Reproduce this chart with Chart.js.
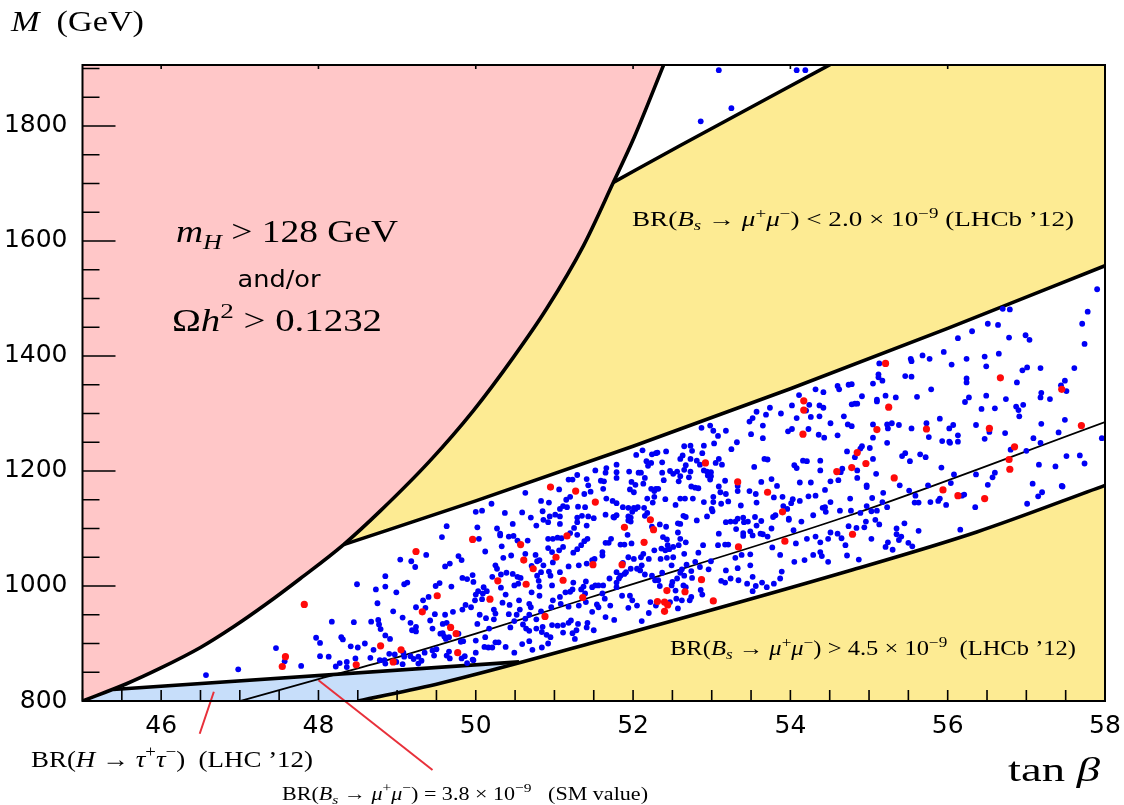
<!DOCTYPE html>
<html>
<head>
<meta charset="utf-8">
<script src="https://cdn.jsdelivr.net/npm/chart.js@4.4.1/dist/chart.umd.min.js"></script>
<style>
  html, body { margin: 0; padding: 0; background: #fff; }
  canvas { display: block; }
</style>
</head>
<body>
<canvas id="chart" width="1124" height="805" style="width:1124px;height:805px"></canvas>
<script>
// boundaries of the excluded regions, [tan beta, M]
const pinkEdge = [[45.0,800],[45.56,830],[45.99,857],[46.5,893],[46.92,929],[47.34,969],[47.77,1013],[48.32,1072],[48.79,1131],[49.42,1218],[49.97,1305],[50.48,1398],[50.90,1482],[51.37,1592],[51.75,1702],[52.01,1779],[52.40,1910]];
const upperBsEdge = [[48.32,1072],[50.0,1148],[52.0,1243],[54.0,1343],[56.0,1448],[58.0,1557]];
const upperBsTop = [[51.75,1702],[52.6,1766],[54.55,1910]];
const lowerBsEdge = [[48.5,800],[49.55,831],[51.45,900],[54.76,1027],[56.37,1094],[58.0,1175]];
const tauEdge = [[45.39,820],[50.55,868]];
const smLine = [[47.0,800],[48.0,838],[49.0,876],[50.0,917],[51.45,980],[54.76,1123],[58.0,1285]];
const pointerTau = [[46.67,816],[46.49,743]];
const pointerSM = [[48.0,836],[49.45,680]];

// scan points
const bluePoints = [
[51.29,1193],[51.23,1185],[51.18,1185],[51.41,1186],[51.06,1168],[50.83,1148],[50.93,1145],[50.63,1162],[51.43,1175],[51.38,1160],[51.20,1155],[51.15,1150],[51.11,1139],[51.07,1134],[51.16,1137],[51.30,1138],[51.39,1137],
[50.20,1143],[50.00,1129],[50.08,1131],[50.37,1127],[50.59,1128],[50.70,1119],[50.85,1130],[50.86,1115],[50.94,1121],[51.01,1124],[51.07,1121],[51.29,1119],[51.35,1122],[51.29,1111],[51.43,1121],[51.41,1105],[51.25,1101],[51.07,1108],[51.20,1092],[50.92,1111],[50.77,1105],[50.47,1108],[50.27,1100],[50.31,1091],[49.63,1104],[50.02,1102],[49.57,1085],[50.04,1082],
[50.48,1087],[50.42,1086],[50.31,1088],[50.66,1079],[50.53,1079],[50.33,1069],[50.92,1082],[50.98,1082],[51.04,1084],[51.09,1083],[51.29,1089],[51.42,1082],[51.38,1078],[51.11,1068],[51.34,1071],[51.29,1064],[50.92,1066],[50.76,1054],[50.97,1059],[51.06,1062],[51.24,1058],[50.45,1053],[50.35,1049],[49.37,1054],[49.04,1046],[49.18,1043],[49.78,1052],[49.82,1045],[50.12,1060],
[49.67,1039],[49.61,1034],[49.23,1033],[50.25,1036],[50.27,1030],[50.63,1056],[50.81,1045],[50.78,1043],[50.71,1035],[50.86,1036],[50.98,1041],[51.18,1034],[51.31,1036],[51.41,1039],[50.83,1024],[50.93,1025],[50.95,1018],[51.07,1024],[49.96,1019],[49.89,1012],[49.83,1014],[50.57,1014],[50.53,1016],[50.78,1018],[50.47,1021],[50.39,1023],[50.32,1020],[50.21,1016],
[48.85,1017],[48.49,1003],[48.73,994],[48.85,999],[49.09,1003],[49.13,1006],[49.49,1000],[49.54,1005],[49.69,999],[49.97,1007],[50.10,998],[50.03,991],[50.14,991],[50.00,985],[50.09,987],[49.99,975],[50.08,977],[50.38,985],[50.32,997],[50.49,1001],[50.54,1004],[50.80,1009],[50.81,999],[50.71,989],[50.97,1001],[51.24,1006],[51.40,1008],[51.37,999],[51.34,994],[51.23,994],[51.14,989],[51.07,981],[51.20,990],[50.98,975],[50.81,983],
[48.75,970],[48.99,989],[49.40,981],[49.33,975],[49.24,963],[49.36,962],[49.48,951],[48.95,956],[49.07,945],[49.42,940],[49.61,950],[49.71,955],[49.87,967],[49.83,959],[49.94,963],[50.05,950],[50.13,944],[50.23,959],[50.25,952],[50.34,971],[50.43,967],[50.55,975],[50.56,959],[50.68,969],[50.70,963],[50.83,956],[50.96,963],[51.08,969],[51.18,964],[51.31,966],[51.40,972],[51.39,987],[50.68,950],[50.52,950],[50.63,943],[50.42,951],[50.49,939],[50.23,942],
[48.17,938],[48.45,937],[48.67,938],[48.76,941],[48.77,933],[48.79,925],[48.85,914],[48.91,908],[49.17,936],[49.19,923],[49.24,929],[49.24,921],[49.45,926],[49.58,934],[49.63,936],[49.55,917],[49.58,918],[49.62,908],[49.60,912],[49.66,911],[49.78,917],[49.81,903],[49.84,904],[50.00,905],[50.12,911],[50.02,934],[50.17,926],[50.44,928],[50.60,933],[50.64,926],[50.68,922],[50.77,926],[50.77,942],[50.85,929],[50.97,932],[50.90,915],[50.84,920],[50.95,911],[51.04,931],[51.11,932],[51.18,936],[51.21,940],[51.30,934],[51.42,936],[51.41,928],[51.28,923],[51.23,918],[51.26,908],[51.11,919],
[48.29,911],[48.31,907],[48.41,895],[48.50,893],[48.59,900],[48.70,889],[48.90,882],[48.97,881],[49.08,884],[49.09,877],[49.17,878],[49.21,873],[49.27,877],[49.31,870],[49.27,865],[49.35,884],[49.45,888],[49.50,890],[49.66,886],[49.82,874],[49.86,878],[49.96,872],[50.00,884],[50.11,894],[50.16,893],[50.21,893],[50.25,902],[50.29,902],[50.38,894],[50.49,884],[50.59,899],[50.68,904],[50.72,889],[50.84,893],[50.92,900],[48.22,860],[48.27,866],[48.36,868],[48.36,859],[48.47,874],[48.66,875],[48.78,871],[48.84,871],[48.85,865],[48.99,868],[49.07,864],[49.47,879],[49.63,879],[49.67,874],[49.89,866],[49.97,871],
[47.97,910],[48.02,901],[47.46,892],[47.57,869],[46.98,855],[46.57,845],[47.78,861],[48.02,878],[48.13,877],
[53.09,1897],[54.08,1897],[54.19,1897],[53.25,1831],[52.86,1808],
[54.60,1348],[54.74,1350],[54.62,1342],[54.42,1337],[54.32,1342],[54.11,1332],[54.02,1314],[54.08,1292],[54.24,1315],[54.20,1305],[54.37,1314],[54.42,1310],[54.26,1294],[54.37,1295],[54.51,1283],[54.68,1295],[54.73,1281],[54.60,1262],[54.43,1258],[54.36,1263],[54.23,1273],[54.02,1273],[53.97,1269],[53.88,1300],[53.74,1310],[53.69,1298],[53.57,1303],[53.52,1292],[53.48,1286],[53.65,1279],[53.65,1257],[53.50,1264],[53.32,1250],[53.25,1238],[53.08,1261],[53.03,1248],[53.02,1270],[52.98,1279],[52.87,1275],[53.18,1270],[53.09,1221],[53.13,1211],[53.05,1214],[52.90,1244],[52.88,1231],[52.73,1244],[52.65,1243],[52.60,1221],[52.42,1234],[52.31,1232],[52.24,1229],[52.12,1236],[52.04,1228],[52.29,1231],[52.37,1215],[52.17,1217],[52.23,1214],[52.19,1209],[52.75,1235],[52.63,1227],[52.73,1221],[52.67,1210],[52.81,1218],[52.85,1211],[52.90,1201],[52.94,1199],[52.99,1191],[52.95,1192],
[51.52,1201],[51.66,1205],[51.65,1197],[51.79,1211],[51.79,1198],[51.79,1188],[51.95,1199],[52.07,1197],[52.10,1197],[51.98,1181],[51.96,1168],[52.01,1163],[52.03,1176],[52.13,1178],[52.15,1188],[52.23,1169],[52.29,1169],[52.32,1169],[52.27,1165],[52.37,1197],[52.47,1200],[52.39,1184],[52.51,1195],[52.56,1199],[52.58,1182],[52.60,1191],[52.65,1202],[52.71,1189],[52.73,1199],[52.79,1171],[52.83,1170],[52.74,1173],[52.98,1185],[52.99,1198],[53.09,1173],[53.17,1183],[53.18,1160],[53.33,1165],[53.33,1174],[53.48,1165],[53.54,1207],[53.67,1221],[53.71,1220],[53.76,1186],[53.63,1181],[53.79,1154],[53.83,1174],[53.90,1155],[53.56,1160],[53.57,1145],[53.37,1140],[53.21,1147],[53.02,1155],[53.02,1146],[53.00,1134],[53.11,1163],[53.12,1143],[52.90,1146],[52.76,1152],[52.66,1152],[52.60,1152],[52.54,1141],[52.41,1151],[52.27,1155],[52.25,1145],[52.18,1152],[52.14,1136],[52.15,1122],[52.06,1137],[52.01,1136],[51.99,1129],[51.94,1136],[51.94,1121],[51.87,1137],[51.79,1123],[51.76,1119],[51.74,1148],[51.79,1144],[51.66,1152],[51.62,1169],[51.46,1164],[51.63,1182],[51.59,1183],
[54.05,1210],[54.08,1205],[54.16,1218],[54.21,1217],[54.38,1218],[54.38,1201],[54.51,1182],[54.61,1184],[54.64,1198],[54.66,1204],[54.72,1234],[54.26,1180],[54.12,1180],[54.23,1156],[54.32,1157],[54.44,1167],[54.51,1146],[54.41,1136],[54.44,1137],[54.12,1148],[54.03,1151],[54.01,1144],[53.98,1115],[53.98,1117],[53.96,1134],[53.91,1139],[53.81,1123],[53.78,1120],[53.76,1100],[54.04,1097],[54.14,1112],[54.29,1123],[54.45,1129],[54.63,1131],[54.74,1104],
[51.50,1118],[51.65,1124],[51.75,1120],[51.94,1114],[51.97,1119],[51.97,1112],[52.03,1134],[52.18,1127],[52.24,1103],[52.34,1107],[52.42,1103],[52.38,1085],[52.43,1081],[52.44,1071],[52.36,1065],[52.46,1064],[52.51,1068],[52.58,1071],[52.60,1082],[52.67,1076],[52.57,1093],[52.60,1108],[52.57,1109],[52.64,1122],[52.67,1120],[52.81,1114],[52.94,1121],[53.01,1130],[53.18,1111],[53.24,1112],[53.30,1112],[53.33,1117],[53.40,1119],[53.41,1111],[53.46,1112],[53.55,1120],[53.63,1113],[53.49,1095],[53.31,1099],[53.40,1092],[53.40,1087],[53.57,1105],[53.52,1088],[53.62,1091],[53.65,1090],[53.71,1086],[53.09,1091],[53.08,1071],[53.17,1072],[53.21,1072],[52.89,1071],[52.83,1058],[52.65,1056],[52.51,1050],[52.43,1049],[52.35,1047],[52.49,1036],[52.41,1062],[52.27,1062],[52.20,1047],[52.10,1050],[52.13,1056],[52.01,1047],[51.94,1050],[51.87,1040],[51.89,1072],[51.93,1089],[51.98,1074],[51.84,1072],[51.72,1082],[51.65,1075],[51.69,1075],[51.61,1059],[51.61,1053],[51.51,1047],[51.48,1045],
[54.07,1074],[54.21,1082],[54.32,1086],[54.38,1076],[54.48,1082],[54.51,1093],[54.60,1091],[54.65,1083],[54.72,1053],[54.70,1071],[54.38,1059],[54.40,1052],[54.48,1042],[54.29,1054],[54.18,1045],[54.05,1042],[53.87,1054],[53.77,1067],[53.49,1055],[53.38,1054],[53.30,1049],[53.33,1031],[53.49,1036],[53.18,1027],[53.12,1009],[53.17,1006],[53.24,1013],[53.34,1010],[53.45,1004],[53.52,1016],[53.56,1000],[53.64,1006],[53.70,998],[53.52,991],[53.89,1025],[53.87,1013],[53.79,1004],
[52.99,1043],[52.96,1029],[52.85,1033],[52.79,1042],[52.74,1026],[52.68,1037],[52.62,1029],[52.60,1023],[52.65,1018],[52.75,1014],[52.64,1001],[52.67,998],[52.56,1013],[52.50,1007],[52.49,1001],[52.54,992],[52.55,978],[52.62,975],[52.72,975],[52.86,993],[52.88,985],[52.37,1023],[52.32,1010],[52.34,1000],[52.28,1010],[52.24,1018],[52.15,1020],[52.09,1027],[52.11,1036],[52.05,1030],[51.97,1030],[51.91,1024],[51.89,1021],[51.84,1018],[51.82,1013],[51.79,1024],[51.79,1006],[51.70,1013],[51.62,1001],[51.56,1001],[51.52,1001],[51.48,998],[51.79,998],[51.61,987],[51.64,978],[51.71,966],[51.56,963],[51.65,946],[51.76,941],[51.50,923],[51.48,955],[51.54,968],[51.94,962],[52.05,966],[52.11,939],[52.20,953],[52.22,972],[52.29,966],[52.47,972],[52.57,961],[52.74,981],[51.86,983],[51.96,983],[51.99,975],
[57.90,1516],[57.78,1477],[57.71,1456],[57.74,1421],[56.79,1481],[56.70,1482],[56.51,1456],[56.64,1454],[56.31,1443],[56.13,1431],[56.78,1432],[56.99,1436],[57.04,1428],[56.65,1404],[56.47,1399],[56.24,1395],[55.95,1407],[55.68,1401],[55.53,1395],[55.54,1391],[55.77,1395],[56.05,1385],[56.49,1382],[56.95,1375],[57.01,1380],[57.18,1379],[57.61,1379],[57.49,1357],[57.44,1349],[57.51,1339],[57.19,1336],[57.18,1328],[57.30,1325],[56.88,1354],[56.24,1361],[56.24,1354],[55.46,1365],[55.54,1364],[55.13,1387],[55.12,1368],[55.12,1363],[55.17,1357],[55.05,1352],[54.78,1351],[55.79,1342],[55.61,1329],[55.21,1331],[55.34,1328],[55.10,1324],[55.10,1321],[54.91,1330],[54.78,1316],[54.85,1317],[54.82,1317],
[56.27,1328],[56.22,1320],[56.49,1331],[56.74,1325],[56.43,1308],[56.60,1309],[56.87,1312],[56.96,1315],[56.90,1306],[56.91,1295],[55.90,1291],[55.73,1283],[56.07,1280],[56.02,1274],[55.54,1274],[55.38,1280],[55.23,1281],[55.24,1274],[55.29,1283],[55.05,1281],[54.78,1278],[55.23,1249],[55.05,1258],[54.91,1243],[54.89,1239],[55.01,1240],[54.82,1224],[55.05,1221],[54.85,1201],[54.85,1188],[55.09,1195],[55.42,1226],[55.46,1231],[55.52,1217],[55.65,1229],[55.72,1224],[55.76,1259],[55.93,1252],[56.02,1251],[56.03,1249],[56.13,1262],[56.13,1251],[56.36,1280],[56.53,1268],[56.47,1256],[56.73,1266],[57.09,1257],[57.19,1282],[57.49,1289],[57.41,1267],[57.18,1249],[57.00,1235],[56.80,1237],[57.16,1211],[57.37,1208],[57.51,1226],[57.68,1227],[57.74,1213],[57.96,1257],
[55.92,1206],[56.08,1194],[56.04,1179],[56.36,1194],[56.60,1197],[56.57,1189],[56.51,1176],[55.75,1175],[55.39,1175],[55.51,1166],[55.59,1157],[55.58,1145],[55.63,1145],[55.78,1146],[55.88,1148],[55.90,1152],[55.98,1141],[56.18,1157],[56.21,1159],[56.35,1137],[57.08,1178],[57.20,1163],[57.15,1156],[57.01,1143],[57.45,1174],[57.46,1173],[55.18,1162],[55.04,1153],[55.23,1137],[55.17,1146],[55.10,1131],[55.03,1130],[54.97,1139],[54.89,1127],[54.77,1131],[54.97,1175],[54.97,1172],[54.76,1152],[54.96,1112],[55.08,1115],[55.13,1107],[54.84,1101],[54.94,1102],[55.03,1082],[55.35,1100],[55.45,1109],[55.35,1090],[55.38,1080],[55.41,1086],[55.24,1076],[55.21,1068],[55.30,1063],[55.50,1075],[55.55,1069],[55.63,1096],[56.16,1098],[54.87,1046]
];

const redPoints = [
[50.95,1172],[51.27,1165],[49.96,1081],[50.57,1072],[49.24,1060],[51.16,1087],[51.02,1050],[50.61,1045],[50.73,1030],[51.11,1010],[50.28,1009],[50.64,1003],[49.51,983],[50.18,977],[51.36,980],[49.32,955],[50.88,947],[49.68,928],[49.75,917],[48.79,896],[49.05,889],[49.77,884],[48.95,868],[48.48,863],
[47.82,968],[47.58,877],[47.54,860],
[54.17,1322],[54.17,1306],[54.16,1264],[52.92,1214],[53.33,1181],[53.71,1163],[54.59,1199],[51.52,1146],[52.22,1115],[51.89,1102],[52.26,1098],[52.14,1076],[53.90,1129],[53.93,1078],[53.34,1068],[51.49,1037],[51.86,1037],[52.87,1011],[52.43,992],[52.66,990],[53.02,974],[52.31,973],[52.40,972],[52.44,967],[52.40,956],
[55.21,1387],[56.67,1362],[57.45,1342],[55.25,1311],[55.10,1272],[55.73,1273],[56.53,1274],[57.70,1279],[54.85,1232],[54.96,1213],[54.78,1206],[55.32,1188],[56.85,1242],[56.78,1220],[56.79,1203],[55.94,1167],[56.13,1157],[56.47,1152],[54.79,1090]
];

const xTicks = { min: 45, max: 58, step: 0.5 };
const yTicks = { min: 800, max: 1906, step: 50 };

const PINK = '#ffc7c8';
const YELLOW = '#fdeb93';
const LIGHTBLUE = '#c7defa';

const xy = pts => pts.map(([x, y]) => ({ x, y }));

// tau region: closed under the lower yellow band, which is painted over it
const tauShape = [[45.0, 800], tauEdge[0], tauEdge[1], [51.0, 868], [51.0, 800]];

function area(pts, color, fill, order, straight) {
  return { data: xy(pts), showLine: true, fill: fill, backgroundColor: color,
    borderColor: 'rgba(0,0,0,0)', borderWidth: 1, pointRadius: 0, tension: 0,
    cubicInterpolationMode: straight ? 'default' : 'monotone', order: order };
}
function edge(pts, width, color, clip) {
  const d = { data: xy(pts), showLine: true, fill: false, borderColor: color || '#000',
    borderWidth: width, pointRadius: 0, cubicInterpolationMode: 'monotone', order: 5 };
  if (clip === false) d.clip = false;
  return d;
}

function richText(ctx, runs, x, y, size, width, align) {
  const serif = '"Liberation Serif", "DejaVu Serif", serif';
  const parts = runs.map(([s, k]) => {
    const small = k === 'sub' || k === 'isub' || k === 'sup';
    const fs = small ? size * 0.7 : size;
    let font;
    if (k === 'sans') font = fs + 'px "DejaVu Sans", sans-serif';
    else font = ((k === 'i' || k === 'isub') ? 'italic ' : '') + fs + 'px ' + serif;
    ctx.font = font;
    const dy = k === 'sup' ? -size * 0.42 : (small ? size * 0.22 : 0);
    return { s, font, dy, w: ctx.measureText(s).width };
  });
  const total = parts.reduce((a, p) => a + p.w, 0);
  const sx = width ? width / total : 1;
  const x0 = align === 'center' ? x - total * sx / 2 : x;
  ctx.save();
  ctx.translate(x0, y);
  ctx.scale(sx, 1);
  ctx.textBaseline = 'alphabetic';
  ctx.textAlign = 'left';
  ctx.fillStyle = '#000';
  let cx = 0;
  parts.forEach(p => { ctx.font = p.font; ctx.fillText(p.s, cx, p.dy); cx += p.w; });
  ctx.restore();
}

const frameAndText = {
  id: 'frameAndText',
  afterDraw(chart) {
    const { ctx, chartArea: a, scales: { x, y } } = chart;
    ctx.save();
    ctx.strokeStyle = '#000';
    ctx.lineWidth = 1.6;
    ctx.beginPath();
    x.ticks.forEach(t => {
      const px = x.getPixelForValue(t.value);
      ctx.moveTo(px, a.bottom); ctx.lineTo(px, a.bottom - 11);
      if (t.value % 2 === 0) { ctx.moveTo(px, a.top); ctx.lineTo(px, a.top + 4); }
    });
    y.ticks.forEach(t => {
      const py = y.getPixelForValue(t.value);
      const len = t.value % 200 === 0 ? 33 : 17;
      ctx.moveTo(a.left, py); ctx.lineTo(a.left + len, py);
    });
    ctx.stroke();
    ctx.lineWidth = 2;
    ctx.strokeRect(a.left, a.top, a.right - a.left, a.bottom - a.top);
    ctx.restore();

    // axis titles
    richText(ctx, [['M', 'i'], ['  (GeV)', 'r']], 11, 31, 30, 133);
    richText(ctx, [['tan ', 'r'], ['β', 'i']], 1008, 781, 34, 92);

    // region labels
    richText(ctx, [['m', 'i'], ['H', 'isub'], [' > 128 GeV', 'r']], 176, 242, 31, 222);
    richText(ctx, [['and/or', 'sans']], 279, 287, 23, 83, 'center');
    richText(ctx, [['Ω', 'r'], ['h', 'i'], ['2', 'sup'], [' > 0.1232', 'r']], 172, 331, 31, 210);
    richText(ctx, [['BR(', 'r'], ['B', 'i'], ['s', 'isub'], [' → ', 'r'], ['μ', 'i'], ['+', 'sup'], ['μ', 'i'], ['−', 'sup'],
      [') < 2.0 × 10', 'r'], ['−9', 'sup'], [' (LHCb ’12)', 'r']], 632, 226, 20, 442);
    richText(ctx, [['BR(', 'r'], ['B', 'i'], ['s', 'isub'], [' → ', 'r'], ['μ', 'i'], ['+', 'sup'], ['μ', 'i'], ['−', 'sup'],
      [') > 4.5 × 10', 'r'], ['−9', 'sup'], ['  (LHCb ’12)', 'r']], 670, 655, 20, 406);
    richText(ctx, [['BR(', 'r'], ['H', 'i'], [' → ', 'r'], ['τ', 'i'], ['+', 'sup'], ['τ', 'i'], ['−', 'sup'],
      [')  (LHC ’12)', 'r']], 31, 767, 23.5, 282);
    richText(ctx, [['BR(', 'r'], ['B', 'i'], ['s', 'isub'], [' → ', 'r'], ['μ', 'i'], ['+', 'sup'], ['μ', 'i'], ['−', 'sup'],
      [') = 3.8 × 10', 'r'], ['−9', 'sup'], ['   (SM value)', 'r']], 282, 800, 19, 366);
  }
};

new Chart(document.getElementById('chart'), {
  type: 'scatter',
  data: {
    datasets: [
      area(tauShape, LIGHTBLUE, 'shape', 16, true),
      area(upperBsEdge, YELLOW, 'end', 15),
      area(upperBsTop, '#ffffff', 'end', 14),
      area(lowerBsEdge, YELLOW, 'start', 13),
      area(pinkEdge, PINK, 'end', 12),
      edge(pinkEdge, 3.6),
      edge(upperBsEdge, 3.6),
      edge(upperBsTop, 3.6),
      edge(lowerBsEdge, 3.6),
      edge(tauEdge, 3.6),
      edge(smLine, 1.8),
      edge(pointerTau, 2, '#e8303a', false),
      edge(pointerSM, 2, '#e8303a', false),
      { data: xy(bluePoints), backgroundColor: '#0000f5', pointRadius: 2.9, pointBorderWidth: 0, order: 2 },
      { data: xy(redPoints), backgroundColor: '#ff0a0a', pointRadius: 3.6, pointBorderWidth: 0, order: 1 }
    ]
  },
  options: {
    responsive: false,
    animation: false,
    events: [],
    layout: { padding: { top: 65, right: 19, left: 0, bottom: 0 } },
    plugins: { legend: { display: false }, tooltip: { enabled: false } },
    scales: {
      x: {
        type: 'linear', min: xTicks.min, max: xTicks.max,
        grid: { display: false }, border: { display: false },
        ticks: {
          stepSize: xTicks.step, autoSkip: false, maxRotation: 0, padding: 2, color: '#000',
          font: { family: '"DejaVu Sans", sans-serif', size: 25 },
          callback: v => (v % 2 === 0 && v > xTicks.min ? String(v) : '')
        },
        afterFit: s => { s.height = 104; }
      },
      y: {
        type: 'linear', min: yTicks.min, max: yTicks.max,
        grid: { display: false }, border: { display: false },
        ticks: {
          stepSize: yTicks.step, includeBounds: false, autoSkip: false, padding: 7, color: '#000',
          font: { family: '"DejaVu Sans", sans-serif', size: 25 },
          callback: v => (v % 200 === 0 ? String(v) : '')
        },
        afterFit: s => { s.width = 82.5; }
      }
    }
  },
  plugins: [frameAndText]
});
</script>
</body>
</html>
